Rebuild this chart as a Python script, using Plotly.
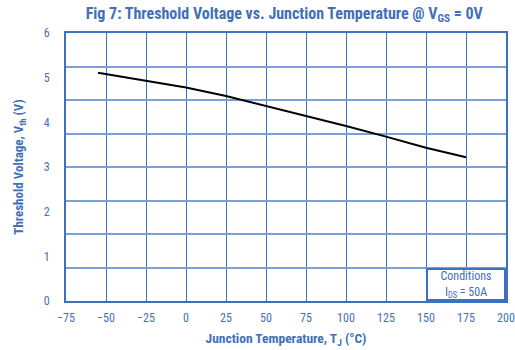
import plotly.graph_objects as go

temp_c = [-55, -25, 0, 25, 50, 75, 100, 125, 150, 175]
vth_v = [5.11, 4.93, 4.78, 4.59, 4.37, 4.15, 3.92, 3.68, 3.43, 3.22]
x_ticks = [-75, -50, -25, 0, 25, 50, 75, 100, 125, 150, 175, 200]
y_ticks = [0, 1, 2, 3, 4, 5, 6]

BLUE = "#3f6fbf"
TXT = "#4170b8"
FONT = "Roboto Condensed, DejaVu Sans Condensed, sans-serif"

fig = go.Figure()
fig.add_trace(go.Scatter(x=temp_c, y=vth_v, mode="lines",
                         line=dict(color="black", width=2), showlegend=False,
                         hoverinfo="skip"))
# invisible trace to carry the secondary (grid) axis
fig.add_trace(go.Scatter(x=temp_c, y=vth_v, yaxis="y2", mode="lines",
                         line=dict(color="rgba(0,0,0,0)"), showlegend=False,
                         hoverinfo="skip"))

fig.update_layout(
    width=515, height=350,
    margin=dict(l=66, r=9, t=33, b=49),
    paper_bgcolor="white", plot_bgcolor="white",
    font=dict(family=FONT, color=TXT, size=12),
    title=dict(text="<b>Fig 7: Threshold Voltage vs. Junction Temperature @ V<sub>GS</sub> = 0V</b>",
               x=0.552, xanchor="center", y=0.962, yanchor="middle",
               font=dict(size=16, color=TXT, family=FONT)),
    xaxis=dict(range=[-75, 200], tickvals=x_ticks, showgrid=True, automargin=False,
               gridcolor=BLUE, gridwidth=1.2, zeroline=False,
               showline=True, linecolor=BLUE, linewidth=2, mirror=True,
               ticks="", tickfont=dict(size=12, color=TXT), ticklabeloverflow="allow",
               ticklabelstandoff=5,
               title=dict(text="<b>Junction Temperature, T<sub>J</sub> (°C)</b>",
                          font=dict(size=13.5, color=TXT), standoff=9)),
    yaxis=dict(range=[0, 6], tickvals=y_ticks, showgrid=False, zeroline=False,
               automargin=False,
               showline=True, linecolor=BLUE, linewidth=2, mirror=True,
               ticks="", tickfont=dict(size=12, color=TXT), ticklabelstandoff=12,
               title=dict(text="<b>Threshold Voltage, V<sub>th</sub> (V)</b>",
                          font=dict(size=13, color=TXT), standoff=17)),
    yaxis2=dict(range=[0, 6], dtick=0.75, tick0=0, overlaying="y", side="left",
                automargin=False,
                showgrid=True, gridcolor="#7d9fd6", gridwidth=1.5, zeroline=False,
                showticklabels=False, showline=False, ticks=""),
)

fig.add_annotation(x=175, y=0.375, xref="x", yref="y",
                   text="Conditions<br>I<sub>DS</sub> = 50A", showarrow=False,
                   font=dict(size=12, color=TXT, family=FONT),
                   bgcolor="white", bordercolor=BLUE, borderwidth=2,
                   width=76, height=29, borderpad=0)

fig.write_html("out.html")
